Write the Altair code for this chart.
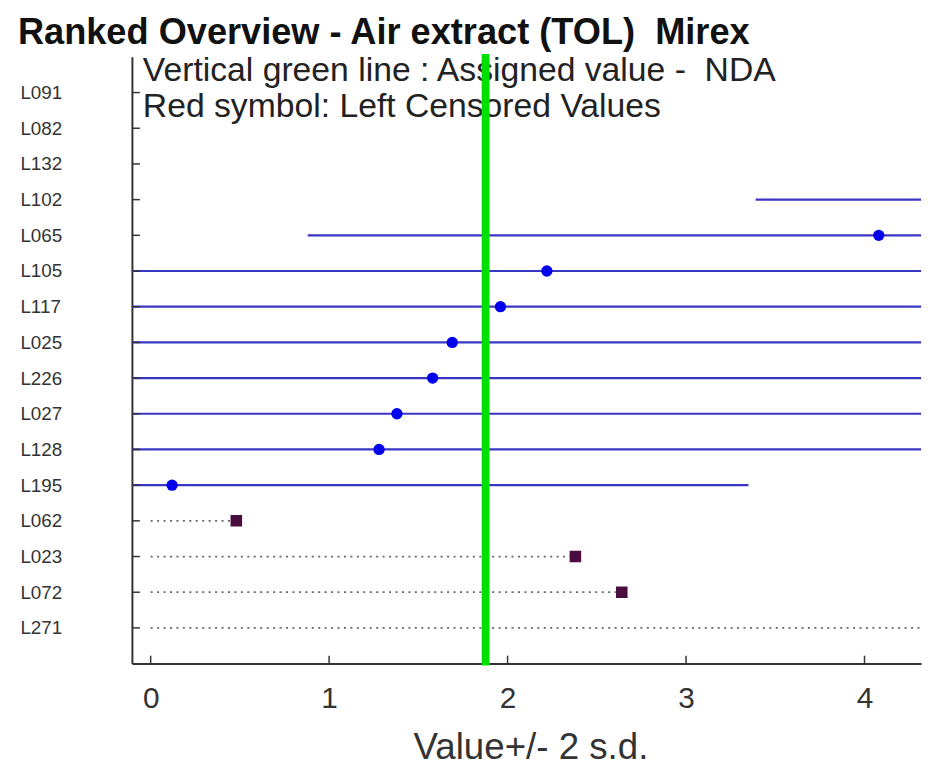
import altair as alt
import pandas as pd

# ---- data ----
labs = ["L091", "L082", "L132", "L102", "L065", "L105", "L117", "L025",
        "L226", "L027", "L128", "L195", "L062", "L023", "L072", "L271"]
# measured values (None = not reported)
vals = [None, None, None, 5.00, 4.08, 2.22, 1.96, 1.69,
        1.58, 1.38, 1.28, 0.12, 0.48, 2.38, 2.64, 4.60]
# standard deviations (None = no interval drawn)
sds = [None, None, None, 0.805, 1.60, 1.60, 1.60, 1.60,
       1.60, 1.60, 1.60, 1.615, None, None, None, None]
# left-censored flags (red symbol)
censored = [False, False, False, False, False, False, False, False,
            False, False, False, False, True, True, True, True]
assigned_value = 1.877
x_ticks = [0, 1, 2, 3, 4]
x_domain = [-0.105, 4.317]

NB = "\u00a0"
title_text = "Ranked Overview - Air extract (TOL)" + NB + " Mirex"
note1 = "Vertical green line : Assigned value -" + NB + " NDA"
note2 = "Red symbol: Left Censored Values"
x_title = "Value+/- 2 s.d."

FONT = "Liberation Sans, Arial, sans-serif"
W, H = 796, 612

rows = []
for lab, v, s, c in zip(labs, vals, sds, censored):
    rows.append({"lab": lab, "v": v, "sd": s, "cens": c})
df = pd.DataFrame(rows)

err = df[df["sd"].notna()].copy()
err["lo"] = err["v"] - 2 * err["sd"]
err["hi"] = err["v"] + 2 * err["sd"]
normal_pts = df[df["v"].notna() & (~df["cens"])]
cens = df[df["cens"]].copy()
cens["zero"] = 0.0

xs = alt.Scale(domain=x_domain, nice=False, zero=False)
ys = alt.Scale(type="point", padding=1, domain=labs)

xaxis = alt.Axis(values=x_ticks, format="d", grid=False, ticks=False, tickSize=0,
                 labelFontSize=30, labelFont=FONT, labelColor="#333", labelPadding=20,
                 domainColor="#333", domainWidth=2,
                 title=x_title, titleFont=FONT, titleFontSize=37, titleFontWeight="normal",
                 titleColor="#333", titleX=402, titleY=96, titleBaseline="alphabetic",
                 titleAlign="center")
yaxis = alt.Axis(grid=False, ticks=False, tickSize=0, labelAlign="left", labelPadding=113,
                 labelFontSize=19, labelFont=FONT, labelColor="#333",
                 domainColor="#333", domainWidth=2, title=None)

base_err = alt.Chart(err).mark_rule(color="#3a36c4", strokeWidth=2.2, clip=True).encode(
    x=alt.X("lo:Q", scale=xs, axis=xaxis),
    x2="hi:Q",
    y=alt.Y("lab:N", scale=ys, axis=yaxis, sort=labs),
)

dotted = alt.Chart(cens).mark_rule(color="#666666", strokeWidth=1.8, strokeDash=[2, 4.5],
                                   clip=True).encode(
    x=alt.X("zero:Q", scale=xs), x2="v:Q", y=alt.Y("lab:N", scale=ys, sort=labs))

pts = alt.Chart(normal_pts).mark_point(shape="circle", filled=True, color="#0000ee",
                                       size=130, opacity=1, clip=True).encode(
    x=alt.X("v:Q", scale=xs), y=alt.Y("lab:N", scale=ys, sort=labs))

cpts = alt.Chart(cens).mark_point(shape="square", filled=True, color="#4a0b3e",
                                  size=135, opacity=1, clip=True).encode(
    x=alt.X("v:Q", scale=xs), y=alt.Y("lab:N", scale=ys, sort=labs))

ytick = alt.Chart(pd.DataFrame({"lab": labs})).mark_rule(color="#333", strokeWidth=1.5).encode(
    y=alt.Y("lab:N", scale=ys, sort=labs), x=alt.value(0), x2=alt.value(8))

xtick = alt.Chart(pd.DataFrame({"t": x_ticks})).mark_rule(color="#333", strokeWidth=1.5).encode(
    x=alt.X("t:Q", scale=xs), y=alt.value(H), y2=alt.value(H - 8))

notes = alt.Chart(pd.DataFrame({"txt": [note1, note2], "yy": [24, 61]})).mark_text(
    align="left", baseline="alphabetic", font=FONT, fontSize=34, color="#222").encode(
    text="txt:N", x=alt.value(11), y=alt.Y("yy:Q", scale=None))

title = alt.Chart(pd.DataFrame({"txt": [title_text]})).mark_text(
    align="left", baseline="alphabetic", font=FONT, fontSize=36.5, fontWeight="bold",
    color="#111").encode(text="txt:N", x=alt.value(-115), y=alt.value(-13))

green = alt.Chart(pd.DataFrame({"a": [assigned_value]})).mark_rule(
    color="#00e000", strokeWidth=8).encode(
    x=alt.X("a:Q", scale=xs), y=alt.value(-3), y2=alt.value(H + 2))

chart = alt.layer(base_err, dotted, pts, cpts, ytick, xtick, notes, green, title).properties(
    width=W, height=H,
    padding={"left": 125, "top": 46, "right": 8, "bottom": 100},
    autosize=alt.AutoSizeParams(type="none"),
    background="white",
).configure_view(stroke=None)

chart.save("out.html", embed_options={"renderer": "svg", "actions": False})
